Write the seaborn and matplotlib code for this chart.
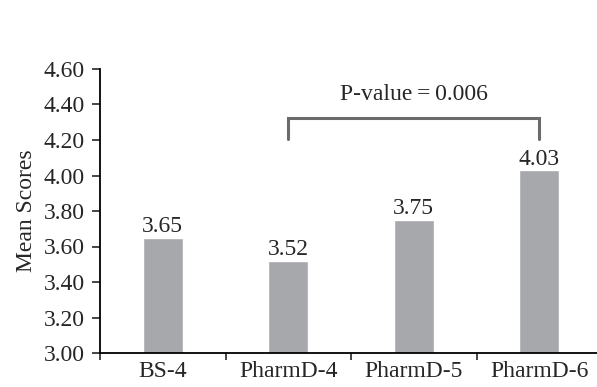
import seaborn as sns
import matplotlib.pyplot as plt
import pandas as pd

groups = ['BS-4', 'PharmD-4', 'PharmD-5', 'PharmD-6']
mean_scores = [3.65, 3.52, 3.75, 4.03]
p_label = 'P-value\u2009=\u20090.006'

df = pd.DataFrame({'Group': groups, 'Mean Scores': mean_scores})

sns.set_style('ticks')
plt.rcParams['font.family'] = ['Liberation Serif', 'DejaVu Serif']

fig = plt.figure(figsize=(5.97, 3.87), dpi=100)
ax = fig.add_axes([100 / 597, 34 / 387, 497 / 597, 284 / 387])

sns.barplot(data=df, x='Group', y='Mean Scores', color='#a7a8ac',
            width=0.32, saturation=1, ax=ax)

# значения над столбцами
for i, v in enumerate(mean_scores):
    ax.text(i, v + 0.003, f'{v:.2f}', ha='center', va='bottom', fontsize=17)

# скобка сравнения PharmD-4 / PharmD-6
ax.plot([1, 1, 3, 3], [4.205, 4.325, 4.325, 4.205], color='#6b6b6b', lw=2.2,
        solid_joinstyle='miter', clip_on=False)
ax.text(2, 4.455, p_label, ha='center', va='center', fontsize=17)

ax.set_ylim(3.0, 4.6)
ax.set_xlim(-0.5, 3.46)
ax.set_yticks([3.0 + 0.2 * k for k in range(9)])
ax.yaxis.set_major_formatter(plt.FormatStrFormatter('%.2f'))
ax.set_xticks(range(len(groups)))
ax.set_xticklabels(groups)
ax.set_xticks([-0.5, 0.5, 1.5, 2.5], minor=True)
ax.tick_params(axis='x', which='major', length=0, pad=6, labelsize=17)
ax.tick_params(axis='x', which='minor', length=5, width=1.2, direction='out')
ax.tick_params(axis='y', length=6, width=1.2, direction='out', labelsize=17, pad=5)
ax.set_xlabel('')
ax.set_ylabel('Mean Scores', fontsize=17, labelpad=5)
sns.despine(ax=ax)
for s in ['left', 'bottom']:
    ax.spines[s].set_linewidth(1.3)
    ax.spines[s].set_color('black')

fig.savefig('out.png', dpi=100)
